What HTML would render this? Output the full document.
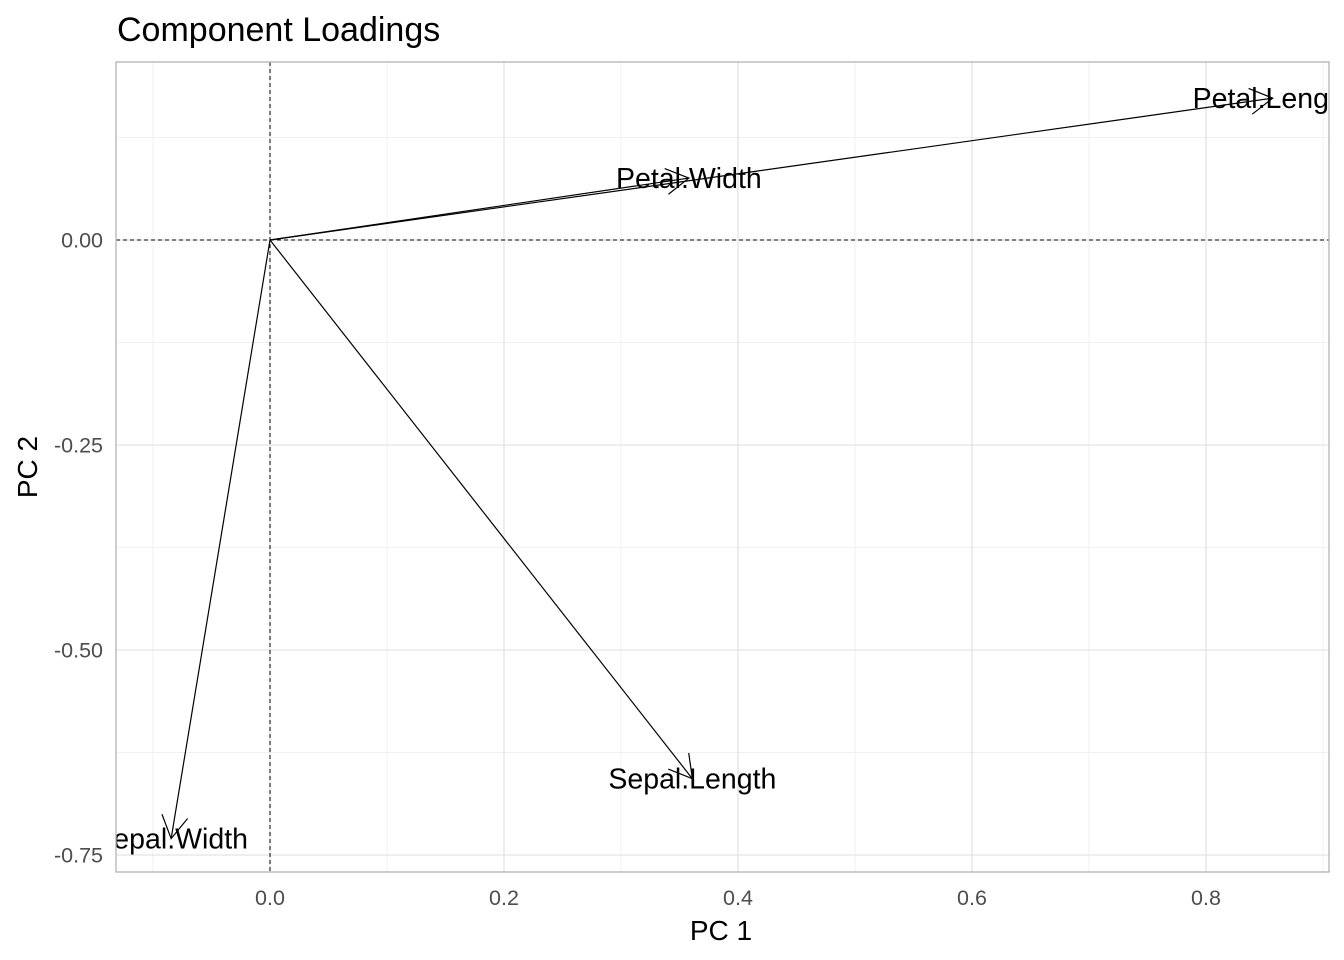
<!DOCTYPE html>
<html><head><meta charset="utf-8"><style>
html,body{margin:0;padding:0;background:#fff;}
svg{display:block;font-family:"Liberation Sans",Arial,sans-serif;}
</style></head><body>
<svg id="chart" width="1344" height="960" xmlns="http://www.w3.org/2000/svg">
<defs><clipPath id="panelClip"><rect x="116" y="62" width="1213" height="810"/></clipPath></defs>
<text x="117" y="41" font-size="34" fill="#000">Component Loadings</text>
<g id="grid"></g>
<g id="marks" clip-path="url(#panelClip)"></g>
<rect x="116" y="62" width="1213" height="810" fill="none" stroke="#b3b3b3" stroke-width="1.3"/>
<g id="axes"></g>
<text x="721" y="940" font-size="28" text-anchor="middle">PC 1</text>
<text x="37" y="467" font-size="28" text-anchor="middle" transform="rotate(-90 37 467)">PC 2</text>
</svg>
<script>
const varNames = ["Sepal.Length","Sepal.Width","Petal.Length","Petal.Width"];
const pc1Values = [0.361, -0.0845, 0.857, 0.358];
const pc2Values = [-0.657, -0.730, 0.173, 0.0755];
const xTicks = [0.0, 0.2, 0.4, 0.6, 0.8];
const xTickLabels = ["0.0","0.2","0.4","0.6","0.8"];
const xMinor = [-0.1, 0.1, 0.3, 0.5, 0.7, 0.9];
const yTicks = [0, -0.25, -0.5, -0.75];
const yTickLabels = ["0.00","-0.25","-0.50","-0.75"];
const yMinor = [0.125, -0.125, -0.375, -0.625];

const X0=270, XS=1170, Y0=240, YS=820, L=116, R=1329, T=62, B=872;
const sx = v => X0 + v*XS;
const sy = v => Y0 - v*YS;
const NS="http://www.w3.org/2000/svg";
function mk(tag, attrs, parent){const e=document.createElementNS(NS,tag);for(const k in attrs)e.setAttribute(k,attrs[k]);parent.appendChild(e);return e;}
const grid=document.getElementById('grid'), marks=document.getElementById('marks'), axes=document.getElementById('axes');

xMinor.forEach(v=>{const e=mk('line',{x1:sx(v),x2:sx(v),y1:T,y2:B,stroke:'#f0f0f0','stroke-width':1},grid);

});
yMinor.forEach(v=>{const e=mk('line',{x1:L,x2:R,y1:sy(v),y2:sy(v),stroke:'#f0f0f0','stroke-width':1},grid);

});
xTicks.forEach((v,i)=>{const e=mk('line',{x1:sx(v),x2:sx(v),y1:T,y2:B,stroke:'#dedede','stroke-width':1.1},grid);


const t=mk('text',{x:sx(v),y:905,'font-size':21.5,'text-anchor':'middle',fill:'#4d4d4d'},axes);t.textContent=xTickLabels[i];

});
yTicks.forEach((v,i)=>{const e=mk('line',{x1:L,x2:R,y1:sy(v),y2:sy(v),stroke:'#dedede','stroke-width':1.1},grid);


const t=mk('text',{x:103,y:sy(v)+7.5,'font-size':21.5,'text-anchor':'end',fill:'#4d4d4d'},axes);t.textContent=yTickLabels[i];

});

const hz=mk('line',{x1:L,x2:R,y1:sy(0),y2:sy(0),stroke:'#000','stroke-width':1,'stroke-dasharray':'4,3'},marks);


const vz=mk('line',{x1:sx(0),x2:sx(0),y1:T,y2:B,stroke:'#000','stroke-width':1,'stroke-dasharray':'4,3'},marks);



varNames.forEach((n,i)=>{
  const x1=sx(0),y1=sy(0),x2=sx(pc1Values[i]),y2=sy(pc2Values[i]);
  const g=mk('g',{},marks);
  
  
  mk('line',{x1,y1,x2,y2,stroke:'#000','stroke-width':1.2},g);
  const a=Math.atan2(y2-y1,x2-x1), hl=26, ha=Math.PI/6;
  const p1=[x2-hl*Math.cos(a-ha),y2-hl*Math.sin(a-ha)], p2=[x2-hl*Math.cos(a+ha),y2-hl*Math.sin(a+ha)];
  mk('polyline',{points:`${p1[0]},${p1[1]} ${x2},${y2} ${p2[0]},${p2[1]}`,fill:'none',stroke:'#000','stroke-width':1.2},g);
  const t=mk('text',{x:x2,y:y2+10,'font-size':28.5,'text-anchor':'middle',fill:'#000'},marks);
  t.textContent=n;
  
  
});
</script>
</body></html>
